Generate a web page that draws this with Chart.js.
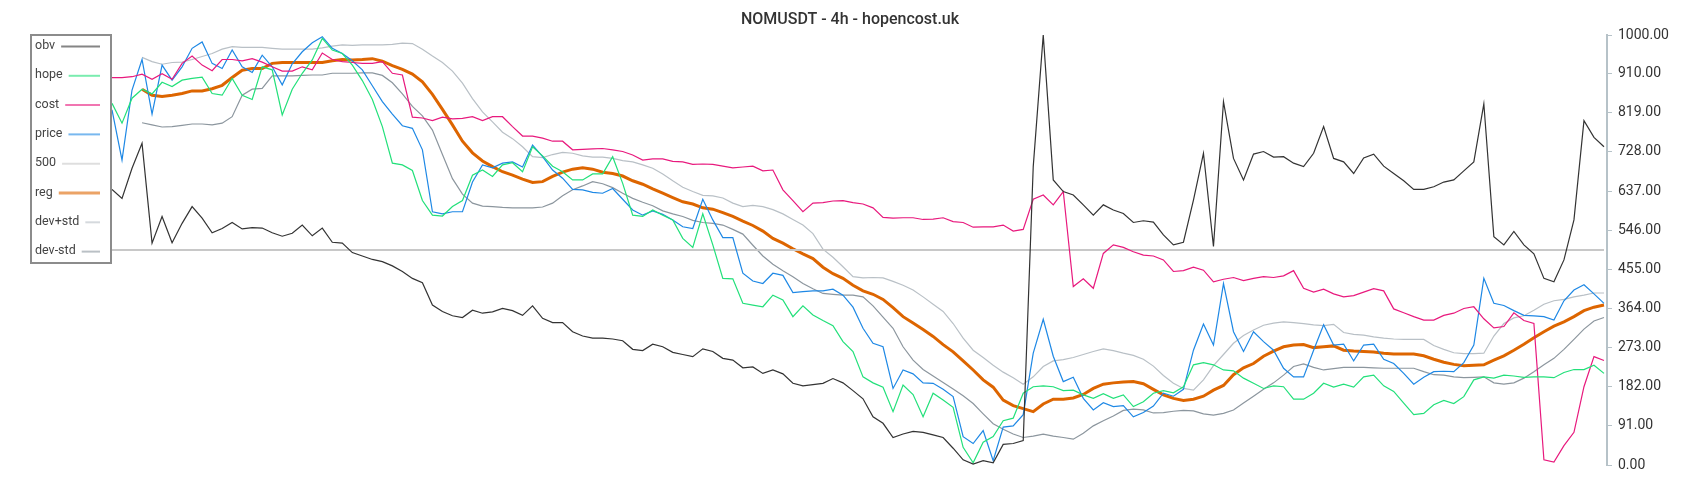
<!DOCTYPE html>
<html lang="en">
<head>
    <meta charset="UTF-8">
    <title>NOMUSDT - 4h - hopencost.uk</title>
    <script src="https://cdn.jsdelivr.net/npm/chart.js@4.4.1/dist/chart.umd.min.js"></script>
    <style>
        html, body { margin: 0; padding: 0; background: #fff; }
        #wrap { width: 1700px; height: 500px; }
    </style>
</head>
<body>
    <div id="wrap"><canvas id="chart" width="1700" height="500"></canvas></div>

    <script>
        // 4h bars, oldest on the left
        const labels = Array.from({ length: 150 }, (_, i) => i);

        const obv = [641,620,690,748,516,578,517,562,601,574,
            540,550,564,549,552,551,540,532,539,558,
            533,551,518,516,494,486,478,473,463,450,
            434,424,372,357,347,343,360,353,356,364,
            359,348,370,341,331,331,310,300,295,295,
            293,289,269,266,281,275,262,257,252,270,
            264,248,244,226,228,213,221,212,190,184,
            187,190,201,191,173,154,112,97,64,72,
            78,76,70,64,39,12,2,10,5,48,
            50,57,694,1000,663,636,628,605,581,605,
            593,585,564,568,565,535,512,518,616,725,
            508,845,713,663,723,729,716,717,702,694,
            725,787,713,705,678,714,723,695,678,661,
            641,641,647,658,663,684,705,840,531,512,
            543,512,491,434,426,477,570,801,762,740];

        const hope = [841,795,853,874,863,890,880,895,899,902,
            864,860,899,860,850,926,919,814,874,911,
            942,992,965,957,930,894,850,787,702,698,
            685,615,581,579,601,615,674,686,671,698,
            703,682,740,719,695,682,663,663,677,677,
            717,655,581,578,593,581,570,527,506,584,
            512,434,433,376,372,368,395,384,345,370,
            349,336,324,287,264,205,191,181,124,186,
            164,112,167,151,134,41,5,53,66,103,
            109,167,182,184,182,173,174,163,155,166,
            155,163,136,147,167,173,168,182,233,238,
            233,221,219,202,190,178,184,182,153,153,
            167,190,181,188,181,205,209,184,171,144,
            117,120,140,150,143,159,198,205,202,209,
            207,204,205,205,203,215,222,222,232,213];

        const cost = [901,901,903,909,897,910,897,934,951,930,
            917,943,943,940,945,937,926,916,916,926,
            919,958,943,938,936,934,934,938,911,907,
            809,807,801,809,805,806,810,801,810,810,
            787,765,765,760,753,753,733,734,735,736,
            733,729,721,709,712,712,706,705,699,700,
            699,695,691,693,695,684,686,640,615,589,
            609,610,614,615,610,607,598,576,574,575,
            575,571,572,575,566,564,553,554,554,558,
            544,548,618,628,605,636,415,433,411,492,
            512,506,496,488,486,477,450,452,460,453,
            426,432,436,429,434,438,436,440,452,411,
            402,409,398,391,394,402,410,405,363,354,
            345,337,337,348,353,364,368,340,319,322,
            354,336,329,12,7,45,76,182,252,243];

        const price = [826,709,872,943,816,930,895,926,969,984,
            934,922,965,926,913,953,926,884,933,961,
            982,996,969,957,940,919,882,845,816,789,
            783,733,589,584,589,589,658,698,691,702,
            705,693,744,717,686,667,641,640,634,632,
            643,618,593,581,591,583,570,554,550,618,
            570,529,529,446,428,422,446,441,401,403,
            405,405,409,395,367,318,283,275,178,221,
            212,191,190,176,159,66,50,80,10,88,
            91,117,260,339,253,194,204,155,128,145,
            136,138,112,122,137,167,160,176,267,328,
            279,422,310,264,310,287,267,225,205,205,
            267,326,279,281,242,279,281,246,236,213,
            188,204,217,218,217,238,279,434,376,371,
            359,348,347,345,337,382,407,419,398,376];

        const level500 = 500;

        const reg = [null,null,null,874,860,857,860,864,870,870,
            875,883,901,918,922,922,934,936,936,936,
            936,936,940,943,942,943,945,939,929,920,
            909,891,862,827,791,753,726,707,694,682,
            674,665,657,659,671,681,688,691,688,681,
            678,672,661,653,642,632,622,612,607,598,
            595,587,578,567,557,544,527,516,503,491,
            480,460,445,434,418,405,397,385,366,345,
            330,315,299,280,263,242,221,198,181,151,
            138,131,124,142,153,153,156,164,178,188,
            191,193,194,189,176,163,155,150,153,160,
            174,185,210,226,236,253,265,275,279,280,
            273,275,277,267,265,264,263,260,258,258,
            258,254,246,239,234,231,232,233,244,254,
            267,281,296,310,323,333,345,359,367,372];

        const devPlus = [null,null,null,948,938,932,936,937,943,950,
            957,967,973,971,971,971,969,967,967,967,
            967,970,974,977,976,977,977,977,978,981,
            980,967,951,936,916,888,852,821,798,774,
            759,740,717,715,722,727,725,719,716,716,
            713,708,705,698,690,677,661,646,636,627,
            626,621,609,601,604,601,594,584,571,558,
            538,502,483,461,438,435,436,435,427,418,
            407,391,374,357,329,295,267,250,232,216,
            203,188,205,229,242,245,250,257,264,270,
            266,260,255,246,230,208,190,178,174,198,
            231,257,283,301,314,325,330,333,331,329,
            326,324,327,308,304,302,298,295,293,292,
            292,292,278,269,261,259,259,260,300,329,
            342,347,360,374,382,385,391,395,400,400];

        const devMinus = [null,null,null,796,791,786,787,790,793,793,
            791,795,810,860,874,876,905,905,905,906,
            907,907,911,911,911,912,912,906,889,863,
            834,812,779,722,666,630,609,602,601,599,
            598,598,598,600,609,626,640,649,659,654,
            645,632,620,611,603,591,584,578,569,564,
            562,558,548,537,511,486,467,452,438,422,
            410,399,397,395,395,391,370,344,318,275,
            244,222,207,192,177,161,143,119,96,83,
            72,64,67,72,67,64,60,74,91,103,
            114,127,130,128,121,122,125,127,126,119,
            116,120,128,144,160,176,191,209,229,235,
            227,221,224,227,227,227,226,225,225,225,
            225,217,210,209,205,203,204,205,191,188,
            191,202,217,233,248,269,292,316,335,343];

        const yTicks = [0, 91, 182, 273, 364, 455, 546, 637, 728, 819, 910, 1000];

        const titleText = 'NOMUSDT - 4h - hopencost.uk';

        function series(label, data, color, width) {
            return {
                label: label,
                data: data,
                borderColor: color,
                backgroundColor: color,
                borderWidth: width,
                pointRadius: 0,
                tension: 0,
                fill: false
            };
        }

        // タイトルと枠付き凡例を自前で描く
        const decorations = {
            id: 'decorations',
            afterDraw(chart) {
                const c = chart.ctx;
                c.save();
                c.fillStyle = '#333';
                c.font = '500 16px Roboto';
                c.textAlign = 'center';
                c.textBaseline = 'middle';
                c.fillText(titleText, 850, 20);

                c.strokeStyle = '#8c8c8c';
                c.lineWidth = 2;
                c.strokeRect(31, 35, 80, 228);

                c.textAlign = 'left';
                c.font = '12.5px Roboto';
                chart.data.datasets.forEach((ds, i) => {
                    const y = 46 + i * 29.3;
                    c.globalAlpha = 1;
                    c.fillStyle = '#444';
                    c.fillText(ds.label, 35, y);
                    const x0 = 35 + c.measureText(ds.label).width + 6;
                    c.globalAlpha = 0.6;
                    c.strokeStyle = ds.borderColor;
                    c.lineWidth = ds.borderWidth > 2 ? 3 : 2;
                    c.beginPath();
                    c.moveTo(x0, y + 0.5);
                    c.lineTo(100, y + 0.5);
                    c.stroke();
                });
                c.restore();
            }
        };

        const ctx = document.getElementById('chart').getContext('2d');
        new Chart(ctx, {
            type: 'line',
            data: {
                labels: labels,
                datasets: [
                    series('obv', obv, '#333333', 1.2),
                    series('hope', hope, '#22e07a', 1.2),
                    series('cost', cost, '#e8197d', 1.2),
                    series('price', price, '#1e88e5', 1.2),
                    series('500', labels.map(() => level500), '#c8c8c8', 2),
                    series('reg', reg, '#dd6500', 3),
                    series('dev+std', devPlus, '#b9c0c6', 1.2),
                    series('dev-std', devMinus, '#8c969e', 1.2)
                ]
            },
            options: {
                responsive: false,
                animation: false,
                layout: { padding: { left: 112, right: 0, top: 35, bottom: 35 } },
                plugins: {
                    legend: { display: false },
                    tooltip: { enabled: false },
                    title: { display: false }
                },
                scales: {
                    x: { type: 'linear', display: false, min: 0, max: 149.3 },
                    y: {
                        position: 'right',
                        min: 0,
                        max: 1000,
                        afterBuildTicks(s) { s.ticks = yTicks.map(v => ({ value: v })); },
                        afterFit(s) { s.width = 93; },
                        grid: { drawOnChartArea: false, tickLength: 5, color: '#b6c2c8' },
                        border: { color: '#b6c2c8', width: 2 },
                        ticks: {
                            font: { family: 'Roboto', size: 14 },
                            color: '#333',
                            padding: 6,
                            callback: v => v.toFixed(2)
                        }
                    }
                }
            },
            plugins: [decorations]
        });
    </script>
</body>
</html>
